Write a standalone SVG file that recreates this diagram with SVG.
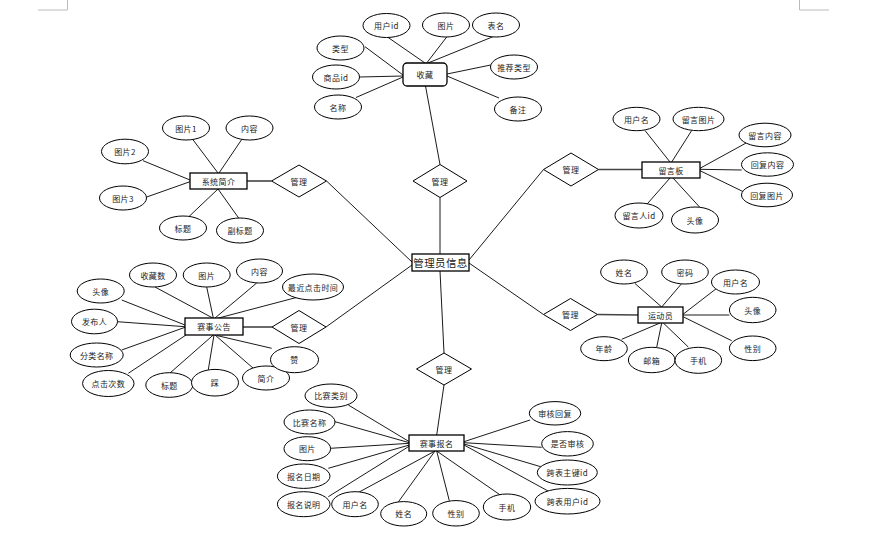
<svg xmlns="http://www.w3.org/2000/svg" width="869" height="535" viewBox="0 0 869 535">
<style>
text{font-family:"Noto Sans CJK SC","Liberation Sans",sans-serif;font-size:8px;fill:#222;text-anchor:middle;dominant-baseline:central;letter-spacing:0.4px}
ellipse{fill:#fff;stroke:#000;stroke-width:1}
.box{fill:#fff;stroke:#000;stroke-width:1.3}
.dia{fill:#fff;stroke:#000;stroke-width:1}
.c line,.c polyline{stroke:#000;stroke-width:0.9;fill:none}
.c .k{stroke:#444;stroke-width:1.6}
.mark{stroke:#bbb;stroke-width:1;fill:none}
.big{font-size:10.5px}
</style>
<rect width="869" height="535" fill="#fff"/>
<polyline class="mark" points="38,10 67.5,10 67.5,0"/>
<polyline class="mark" points="799.5,0 799.5,10 829,10"/>
<g class="c" id="connectors">
<line x1="425.5" y1="86" x2="440" y2="164.5"/>
<line x1="440" y1="197.5" x2="440" y2="254"/>
<line x1="412" y1="262" x2="326.5" y2="181"/>
<line class="k" x1="271.5" y1="181" x2="247" y2="181"/>
<line x1="469" y1="260" x2="543.5" y2="169.5"/>
<line class="k" x1="598.5" y1="169.5" x2="642" y2="169.5"/>
<line x1="412" y1="265" x2="326" y2="327"/>
<line class="k" x1="272" y1="327" x2="243" y2="327"/>
<line x1="469" y1="263" x2="543.5" y2="314.5"/>
<line class="k" x1="597.5" y1="314.5" x2="638" y2="315"/>
<line x1="440" y1="271" x2="444" y2="353"/>
<line x1="444" y1="385" x2="436.7" y2="435"/>
<!-- 收藏 -->
<line x1="387" y1="36.7" x2="425" y2="63"/>
<line x1="446.7" y1="37" x2="426.7" y2="63"/>
<line x1="493" y1="36.7" x2="428" y2="63"/>
<line x1="365" y1="46.7" x2="403" y2="75"/>
<line x1="359.5" y1="77" x2="403" y2="76"/>
<line x1="356" y1="97.5" x2="403" y2="77"/>
<line x1="490.7" y1="65" x2="447" y2="74"/>
<line x1="499" y1="98" x2="447" y2="76"/>
<!-- 系统简介 -->
<line x1="193" y1="139.8" x2="218" y2="173"/>
<line x1="241.7" y1="139.5" x2="219" y2="173"/>
<line x1="143" y1="160.7" x2="190" y2="180"/>
<line x1="146.7" y1="197" x2="190" y2="181.7"/>
<line x1="189" y1="216.5" x2="218" y2="189"/>
<line x1="239" y1="218.5" x2="218" y2="189"/>
<!-- 留言板 -->
<line x1="645" y1="130.5" x2="670" y2="162"/>
<line x1="691.7" y1="130.5" x2="671.7" y2="162"/>
<line x1="746.7" y1="142.7" x2="700" y2="168.3"/>
<line x1="741.7" y1="170" x2="700" y2="169.3"/>
<line x1="743.3" y1="191.7" x2="700" y2="170.7"/>
<line x1="646.7" y1="204.5" x2="670" y2="178"/>
<line x1="700" y1="207.5" x2="673" y2="178"/>
<!-- 赛事公告 -->
<line x1="155" y1="287" x2="212.7" y2="318"/>
<line x1="206.7" y1="287" x2="213.3" y2="318"/>
<line x1="256.7" y1="283" x2="215" y2="318"/>
<line x1="298.3" y1="297" x2="216.7" y2="318.5"/>
<line x1="121.7" y1="300" x2="185" y2="325"/>
<line x1="117.3" y1="321.7" x2="185" y2="326.7"/>
<line x1="121.7" y1="350" x2="185" y2="327.3"/>
<line x1="128.3" y1="373.3" x2="186" y2="335"/>
<line x1="170" y1="373" x2="213.3" y2="335"/>
<line x1="208.3" y1="369.7" x2="214" y2="335"/>
<line x1="253.3" y1="368.3" x2="215" y2="335"/>
<line x1="271.7" y1="348.3" x2="216.7" y2="335.5"/>
<!-- 运动员 -->
<line x1="635" y1="283.5" x2="661.7" y2="307"/>
<line x1="681.7" y1="283.5" x2="661.7" y2="307"/>
<line x1="716.7" y1="288.3" x2="683" y2="314.3"/>
<line x1="729.3" y1="315" x2="683" y2="315"/>
<line x1="731.7" y1="340.7" x2="683" y2="316.7"/>
<line x1="621.7" y1="339.3" x2="660" y2="323"/>
<line x1="656.7" y1="347.3" x2="661.7" y2="323"/>
<line x1="688.3" y1="347" x2="663.3" y2="323"/>
<!-- 赛事报名 -->
<line x1="348.3" y1="405" x2="409.3" y2="441.7"/>
<line x1="335" y1="421.7" x2="409.3" y2="442.7"/>
<line x1="330.5" y1="448.3" x2="409.3" y2="443.3"/>
<line x1="328.3" y1="468.3" x2="409.3" y2="445"/>
<line x1="328.3" y1="496.7" x2="409.5" y2="446"/>
<line x1="358.3" y1="492.5" x2="435" y2="451"/>
<line x1="398.3" y1="502" x2="435" y2="451"/>
<line x1="449.3" y1="500.7" x2="436.7" y2="451"/>
<line x1="501.7" y1="496" x2="436.7" y2="451"/>
<line x1="530" y1="420" x2="464" y2="441.7"/>
<line x1="541.7" y1="447.3" x2="464" y2="442.7"/>
<line x1="540.7" y1="466.7" x2="464" y2="444"/>
<line x1="549.3" y1="491.7" x2="464" y2="445"/>
</g>
<g id="diamonds">
<g id="d-shoucang"><polygon class="dia" points="440,164.5 467,181 440,197.5 413,181"/><text x="440" y="181">管理</text></g>
<g id="d-xitong"><polygon class="dia" points="299,165 326.5,181 299,197 271.5,181"/><text x="299" y="181">管理</text></g>
<g id="d-liuyan"><polygon class="dia" points="571,153 598.5,169.5 571,186 543.5,169.5"/><text x="571" y="169.5">管理</text></g>
<g id="d-gonggao"><polygon class="dia" points="299,310.5 326,327 299,343.5 272,327"/><text x="299" y="327">管理</text></g>
<g id="d-yundong"><polygon class="dia" points="570.5,298.5 597.5,314.5 570.5,330.5 543.5,314.5"/><text x="570.5" y="314.5">管理</text></g>
<g id="d-baoming"><polygon class="dia" points="444,353 471.5,369 444,385 416.5,369"/><text x="444" y="369">管理</text></g>
</g>
<g id="center"><rect class="box" x="412" y="254" width="57" height="17"/><text class="big" x="440.5" y="262.5">管理员信息</text></g>
<g id="shoucang">
<rect class="box" x="403" y="63" width="44" height="23" rx="4"/><text x="425" y="74.5">收藏</text>
<ellipse cx="386.5" cy="25.5" rx="23.5" ry="12"/><text x="386.5" y="25.5">用户id</text>
<ellipse cx="446" cy="25" rx="23.5" ry="12"/><text x="446" y="25">图片</text>
<ellipse cx="496" cy="25" rx="23.5" ry="12"/><text x="496" y="25">表名</text>
<ellipse cx="340.5" cy="48" rx="23.5" ry="12"/><text x="340.5" y="48">类型</text>
<ellipse cx="336" cy="77" rx="23.5" ry="12"/><text x="336" y="77">商品id</text>
<ellipse cx="338" cy="107" rx="23.5" ry="12"/><text x="338" y="107">名称</text>
<ellipse cx="514" cy="67" rx="23.5" ry="12"/><text x="514" y="67">推荐类型</text>
<ellipse cx="518" cy="109" rx="23.5" ry="12"/><text x="518" y="109">备注</text>
</g>
<g id="xitong">
<rect class="box" x="190" y="173" width="57" height="16"/><text x="218.5" y="181">系统简介</text>
<ellipse cx="186" cy="128" rx="23.5" ry="12"/><text x="186" y="128">图片1</text>
<ellipse cx="249.5" cy="128" rx="23.5" ry="12"/><text x="249.5" y="128">内容</text>
<ellipse cx="125" cy="151.5" rx="23.5" ry="12.3"/><text x="125" y="151.5">图片2</text>
<ellipse cx="123" cy="198" rx="23.5" ry="12"/><text x="123" y="198">图片3</text>
<ellipse cx="183" cy="228" rx="23.5" ry="12"/><text x="183" y="228">标题</text>
<ellipse cx="240" cy="230.5" rx="23.5" ry="12.5"/><text x="240" y="230.5">副标题</text>
</g>
<g id="liuyan">
<rect class="box" x="642" y="162" width="58" height="16"/><text x="671" y="170">留言板</text>
<ellipse cx="636.5" cy="119" rx="23.5" ry="11.7"/><text x="636.5" y="119">用户名</text>
<ellipse cx="698.5" cy="119" rx="25.5" ry="11.7"/><text x="698.5" y="119">留言图片</text>
<ellipse cx="765" cy="135" rx="26" ry="11.8"/><text x="765" y="135">留言内容</text>
<ellipse cx="767.5" cy="164.5" rx="26" ry="11.7"/><text x="767.5" y="164.5">回复内容</text>
<ellipse cx="767" cy="195" rx="25.5" ry="11.8"/><text x="767" y="195">回复图片</text>
<ellipse cx="639" cy="215.5" rx="24" ry="12.5"/><text x="639" y="215.5">留言人id</text>
<ellipse cx="695" cy="220" rx="23.5" ry="13"/><text x="695" y="220">头像</text>
</g>
<g id="gonggao">
<rect class="box" x="185" y="318" width="58" height="17"/><text x="214" y="326.5">赛事公告</text>
<ellipse cx="153" cy="275" rx="23.5" ry="12"/><text x="153" y="275">收藏数</text>
<ellipse cx="206.7" cy="275" rx="23.5" ry="12"/><text x="206.7" y="275">图片</text>
<ellipse cx="259.5" cy="271" rx="23" ry="12"/><text x="259.5" y="271">内容</text>
<ellipse cx="313" cy="287" rx="30.5" ry="13"/><text x="313" y="287">最近点击时间</text>
<ellipse cx="100.7" cy="291" rx="23.5" ry="12"/><text x="100.7" y="291">头像</text>
<ellipse cx="94.5" cy="321.5" rx="23" ry="12.3"/><text x="94.5" y="321.5">发布人</text>
<ellipse cx="96.7" cy="355" rx="26.5" ry="12"/><text x="96.7" y="355">分类名称</text>
<ellipse cx="108.3" cy="383.5" rx="25.7" ry="13"/><text x="108.3" y="383.5">点击次数</text>
<ellipse cx="169.3" cy="385" rx="23.5" ry="12.3"/><text x="169.3" y="385">标题</text>
<ellipse cx="215" cy="382.7" rx="23.5" ry="13.3"/><text x="215" y="382.7">踩</text>
<ellipse cx="266" cy="378" rx="23.5" ry="12"/><text x="266" y="378">简介</text>
<ellipse cx="294.5" cy="359.7" rx="24" ry="13"/><text x="294.5" y="359.7">赞</text>
</g>
<g id="yundong">
<rect class="box" x="638" y="307" width="45" height="16"/><text x="660.5" y="315">运动员</text>
<ellipse cx="624" cy="272" rx="23.3" ry="12"/><text x="624" y="272">姓名</text>
<ellipse cx="685" cy="272" rx="23.3" ry="12"/><text x="685" y="272">密码</text>
<ellipse cx="735.5" cy="282" rx="24" ry="12"/><text x="735.5" y="282">用户名</text>
<ellipse cx="752.7" cy="310" rx="23.3" ry="12.7"/><text x="752.7" y="310">头像</text>
<ellipse cx="752.7" cy="348.3" rx="23.3" ry="12.3"/><text x="752.7" y="348.3">性别</text>
<ellipse cx="604" cy="348.7" rx="23.3" ry="12"/><text x="604" y="348.7">年龄</text>
<ellipse cx="651.7" cy="360" rx="23.3" ry="12.7"/><text x="651.7" y="360">邮箱</text>
<ellipse cx="698.3" cy="360.3" rx="23.3" ry="13"/><text x="698.3" y="360.3">手机</text>
</g>
<g id="baoming">
<rect class="box" x="409" y="435" width="55" height="16"/><text x="436.5" y="443">赛事报名</text>
<ellipse cx="331" cy="395.7" rx="26" ry="11.7"/><text x="331" y="395.7">比赛类别</text>
<ellipse cx="309.5" cy="422" rx="25.5" ry="12"/><text x="309.5" y="422">比赛名称</text>
<ellipse cx="307.3" cy="448.7" rx="23.3" ry="12"/><text x="307.3" y="448.7">图片</text>
<ellipse cx="303.7" cy="476.2" rx="26.3" ry="12.2"/><text x="303.7" y="476.2">报名日期</text>
<ellipse cx="303.7" cy="504.2" rx="26.3" ry="12.5"/><text x="303.7" y="504.2">报名说明</text>
<ellipse cx="355" cy="504.2" rx="23.3" ry="12.5"/><text x="355" y="504.2">用户名</text>
<ellipse cx="403.7" cy="513.8" rx="23" ry="12.2"/><text x="403.7" y="513.8">姓名</text>
<ellipse cx="456" cy="513.3" rx="23.3" ry="12.7"/><text x="456" y="513.3">性别</text>
<ellipse cx="507" cy="507" rx="23.7" ry="13"/><text x="507" y="507">手机</text>
<ellipse cx="555" cy="413.3" rx="25.7" ry="11.7"/><text x="555" y="413.3">审核回复</text>
<ellipse cx="567.5" cy="443.8" rx="25.8" ry="12.2"/><text x="567.5" y="443.8">是否审核</text>
<ellipse cx="567.3" cy="472.5" rx="30" ry="12.5"/><text x="567.3" y="472.5">跨表主键id</text>
<ellipse cx="567.5" cy="501.2" rx="32.5" ry="12.8"/><text x="567.5" y="501.2">跨表用户id</text>
</g>
</svg>
